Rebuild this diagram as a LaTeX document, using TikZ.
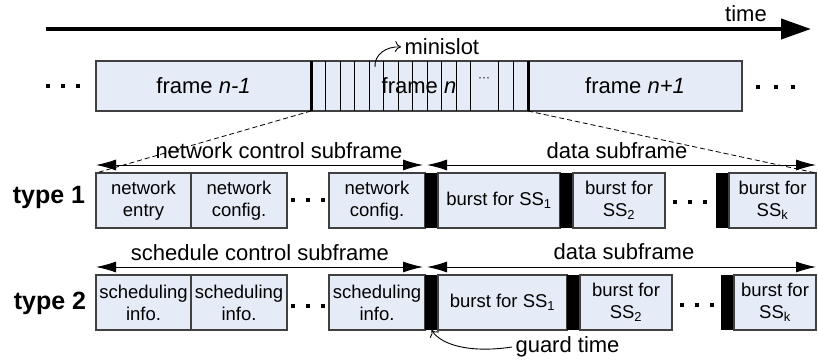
\documentclass[tikz,border=0pt]{standalone}
\usepackage{fontspec}
\setmainfont{Liberation Sans}
\usetikzlibrary{arrows.meta,calc}
\definecolor{slotfill}{RGB}{230,236,247}
\definecolor{slotedge}{RGB}{64,64,64}
\begin{document}
\begin{tikzpicture}[x=1pt,y=-1pt,
  cell/.style={draw=slotedge, line width=1.1pt, fill=slotfill, inner sep=0pt, outer sep=0pt,
    minimum height=55pt, align=center, font=\fontsize{18.5}{22}\selectfont},
  guard/.style={fill=black, inner sep=0pt, outer sep=0pt, minimum width=13pt, minimum height=55pt},
  frm/.style={draw=slotedge, line width=1.1pt, fill=slotfill, inner sep=0pt, outer sep=0pt,
    minimum height=50pt, font=\fontsize{22}{26}\selectfont},
  big/.style={font=\fontsize{22}{26}\selectfont},
  rowlabel/.style={font=\fontsize{25}{30}\selectfont\bfseries},
  span/.style={{Latex[length=20pt,width=11pt]}-{Latex[length=20pt,width=11pt]}, line width=0.9pt},
  callout/.style={-{To[length=6pt,width=11pt]}, line width=0.9pt},
  cut/.style={dashed, dash pattern=on 5pt off 3pt, line width=0.8pt},
]
\useasboundingbox (0,0) rectangle (818,363);

% time axis
\coordinate (tstart) at (46,29);
\coordinate (tend) at (811,29);
\draw[line width=4pt, -{Triangle[length=30pt,width=20pt]}] (tstart) -- (tend);
\node[big] (time) at (746,14) {time};

% frame sequence
\node[frm, minimum width=215pt] (fprev) at (203.5,86) {frame \textit{n-1}};
\node[frm, minimum width=217pt] (fcur) at (419.5,86) {};
\node[frm, minimum width=214pt] (fnext) at (635,86) {frame \textit{n+1}};
\foreach \x in {325.5,340,354.5,369,383.5,398,412.5,427,441.5,456,470.5,498,513}
  \draw[line width=0.8pt] (\x,61) -- (\x,111);
\draw[line width=3pt] (fcur.north west) -- (fcur.south west);
\draw[line width=3pt] (fcur.north east) -- (fcur.south east);
\node[big] (lcur) at (419,86) {frame \textit{n}};
\node[font=\fontsize{12}{14}\selectfont] (cdots) at (484,80) {···};

% dots before and after the frames
\foreach \x in {48,63,78} \fill (\x-2,84) rectangle ++(4,4);
\foreach \x in {758,776,793} \fill (\x-2,85) rectangle ++(4,4);

% minislot callout
\node[big, anchor=west] (mini) at (401,47) {minislot};
\coordinate (mslot) at (375,67);
\draw[callout] (mslot) .. controls (374,55) and (386,46) .. (mini.west);

% ---------- type 1 ----------
\node[rowlabel] (t1) at (49,197) {type 1};
\node[cell, minimum width=95pt] (ne) at (143.5,200.5) {network\\entry};
\node[cell, minimum width=96pt] (nc1) at (239,200.5) {network\\config.};
\node[cell, minimum width=96pt] (nc2) at (377,200.5) {network\\config.};
\node[guard] (g1a) at (431.5,200.5) {};
\node[cell, minimum width=122pt] (b11) at (499,200.5) {burst for SS\textsubscript{1}};
\node[guard] (g1b) at (566.5,200.5) {};
\node[cell, minimum width=92pt] (b12) at (619,200.5) {burst for\\SS\textsubscript{2}};
\node[guard] (g1c) at (722.5,200.5) {};
\node[cell, minimum width=87pt] (b1k) at (772.5,200.5) {burst for\\SS\textsubscript{k}};
\foreach \x in {293,308,323} \fill (\x-2,198) rectangle ++(4,4);
\foreach \x in {675,690,705} \fill (\x-2,200) rectangle ++(4,4);

\coordinate (s1a) at (96,165);
\coordinate (s1b) at (423,165);
\coordinate (s1c) at (427,165);
\coordinate (s1d) at (816,165);
\draw[span] (s1a) -- (s1b);
\draw[span] (s1c) -- (s1d);
\node[big] (nctl) at (279,151) {network control subframe};
\node[big] (dat1) at (617,151) {data subframe};

\draw[cut] (fcur.south west) -- (ne.north west);
\draw[cut] (fcur.south east) -- (b1k.north east);

% ---------- type 2 ----------
\node[rowlabel] (t2) at (50,303) {type 2};
\node[cell, minimum width=95pt] (si1) at (143.5,302.5) {scheduling\\info.};
\node[cell, minimum width=96pt] (si2) at (239,302.5) {scheduling\\info.};
\node[cell, minimum width=96pt] (si3) at (377,302.5) {scheduling\\info.};
\node[guard] (g2a) at (431.5,302.5) {};
\node[cell, minimum width=129pt] (b21) at (502.5,302.5) {burst for SS\textsubscript{1}};
\node[guard] (g2b) at (573.5,302.5) {};
\node[cell, minimum width=92pt] (b22) at (626,302.5) {burst for\\SS\textsubscript{2}};
\node[guard] (g2c) at (727.5,302.5) {};
\node[cell, minimum width=82pt] (b2k) at (775,302.5) {burst for\\SS\textsubscript{k}};
\foreach \x in {293,308,323} \fill (\x-2,304) rectangle ++(4,4);
\foreach \x in {682,697,712} \fill (\x-2,303) rectangle ++(4,4);

\coordinate (s2a) at (96,267);
\coordinate (s2b) at (423,267);
\coordinate (s2c) at (427,267);
\coordinate (s2d) at (816,267);
\draw[span] (s2a) -- (s2b);
\draw[span] (s2c) -- (s2d);
\node[big] (sctl) at (260,253) {schedule control subframe};
\node[big] (dat2) at (624,252) {data subframe};

% guard time callout
\node[big, anchor=west] (gt) at (512,347) {guard time};
\draw[callout] (gt.west) .. controls (472,353) and (442,346) .. (g2a.south);
\end{tikzpicture}
\end{document}
